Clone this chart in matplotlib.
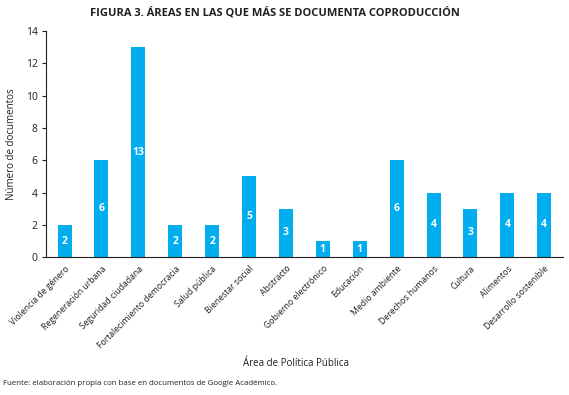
import matplotlib.pyplot as plt

plt.rcParams['font.family'] = ['Open Sans', 'DejaVu Sans']

categorias = ["Violencia de género", "Regeneración urbana", "Seguridad ciudadana",
              "Fortalecimiento democracia", "Salud pública", "Bienestar social",
              "Abstracto", "Gobierno electrónico", "Educación", "Medio ambiente",
              "Derechos humanos", "Cultura", "Alimentos", "Desarrollo sostenible"]
valores = [2, 6, 13, 2, 2, 5, 3, 1, 1, 6, 4, 3, 4, 4]
yticks = [0, 2, 4, 6, 8, 10, 12, 14]

color = "#00aeef"
texto = "#231f20"

fig = plt.figure(figsize=(5.69, 3.95), dpi=100)
ax = fig.add_axes([0.081, 0.349, 0.908, 0.572])

x = range(len(categorias))
bars = ax.bar(x, valores, width=0.38, color=color)
for xi, v in zip(x, valores):
    ax.text(xi, v / 2, str(v), ha="center", va="center", color="white",
            fontsize=7.5, fontweight="bold")

ax.set_xlim(-0.5, len(categorias) - 0.5)
ax.set_ylim(0, 14)
ax.set_yticks(yticks)
ax.tick_params(axis="y", labelsize=7.5, length=3, width=0.8, colors=texto, pad=3)
ax.set_xticks(list(x))
ax.set_xticklabels(categorias, rotation=45, ha="right", rotation_mode="anchor",
                   fontsize=6.2, color=texto)
ax.tick_params(axis="x", length=0, pad=5)

for s in ["top", "right"]:
    ax.spines[s].set_visible(False)
for s in ["left", "bottom"]:
    ax.spines[s].set_linewidth(0.8)
    ax.spines[s].set_color(texto)

ax.set_ylabel("Número de documentos", fontsize=7, color=texto, labelpad=6)
fig.text(0.52, 0.081, "Área de Política Pública", ha="center", va="center",
         fontsize=7, color=texto)

fig.text(0.484, 0.968, "FIGURA 3. ÁREAS EN LAS QUE MÁS SE DOCUMENTA COPRODUCCIÓN",
         ha="center", va="center", fontsize=8, fontweight="bold", color=texto)
fig.text(0.005, 0.028, "Fuente: elaboración propia con base en documentos de Google Académico.",
         ha="left", va="center", fontsize=5.7, color=texto)

fig.savefig("out.png", dpi=100)
